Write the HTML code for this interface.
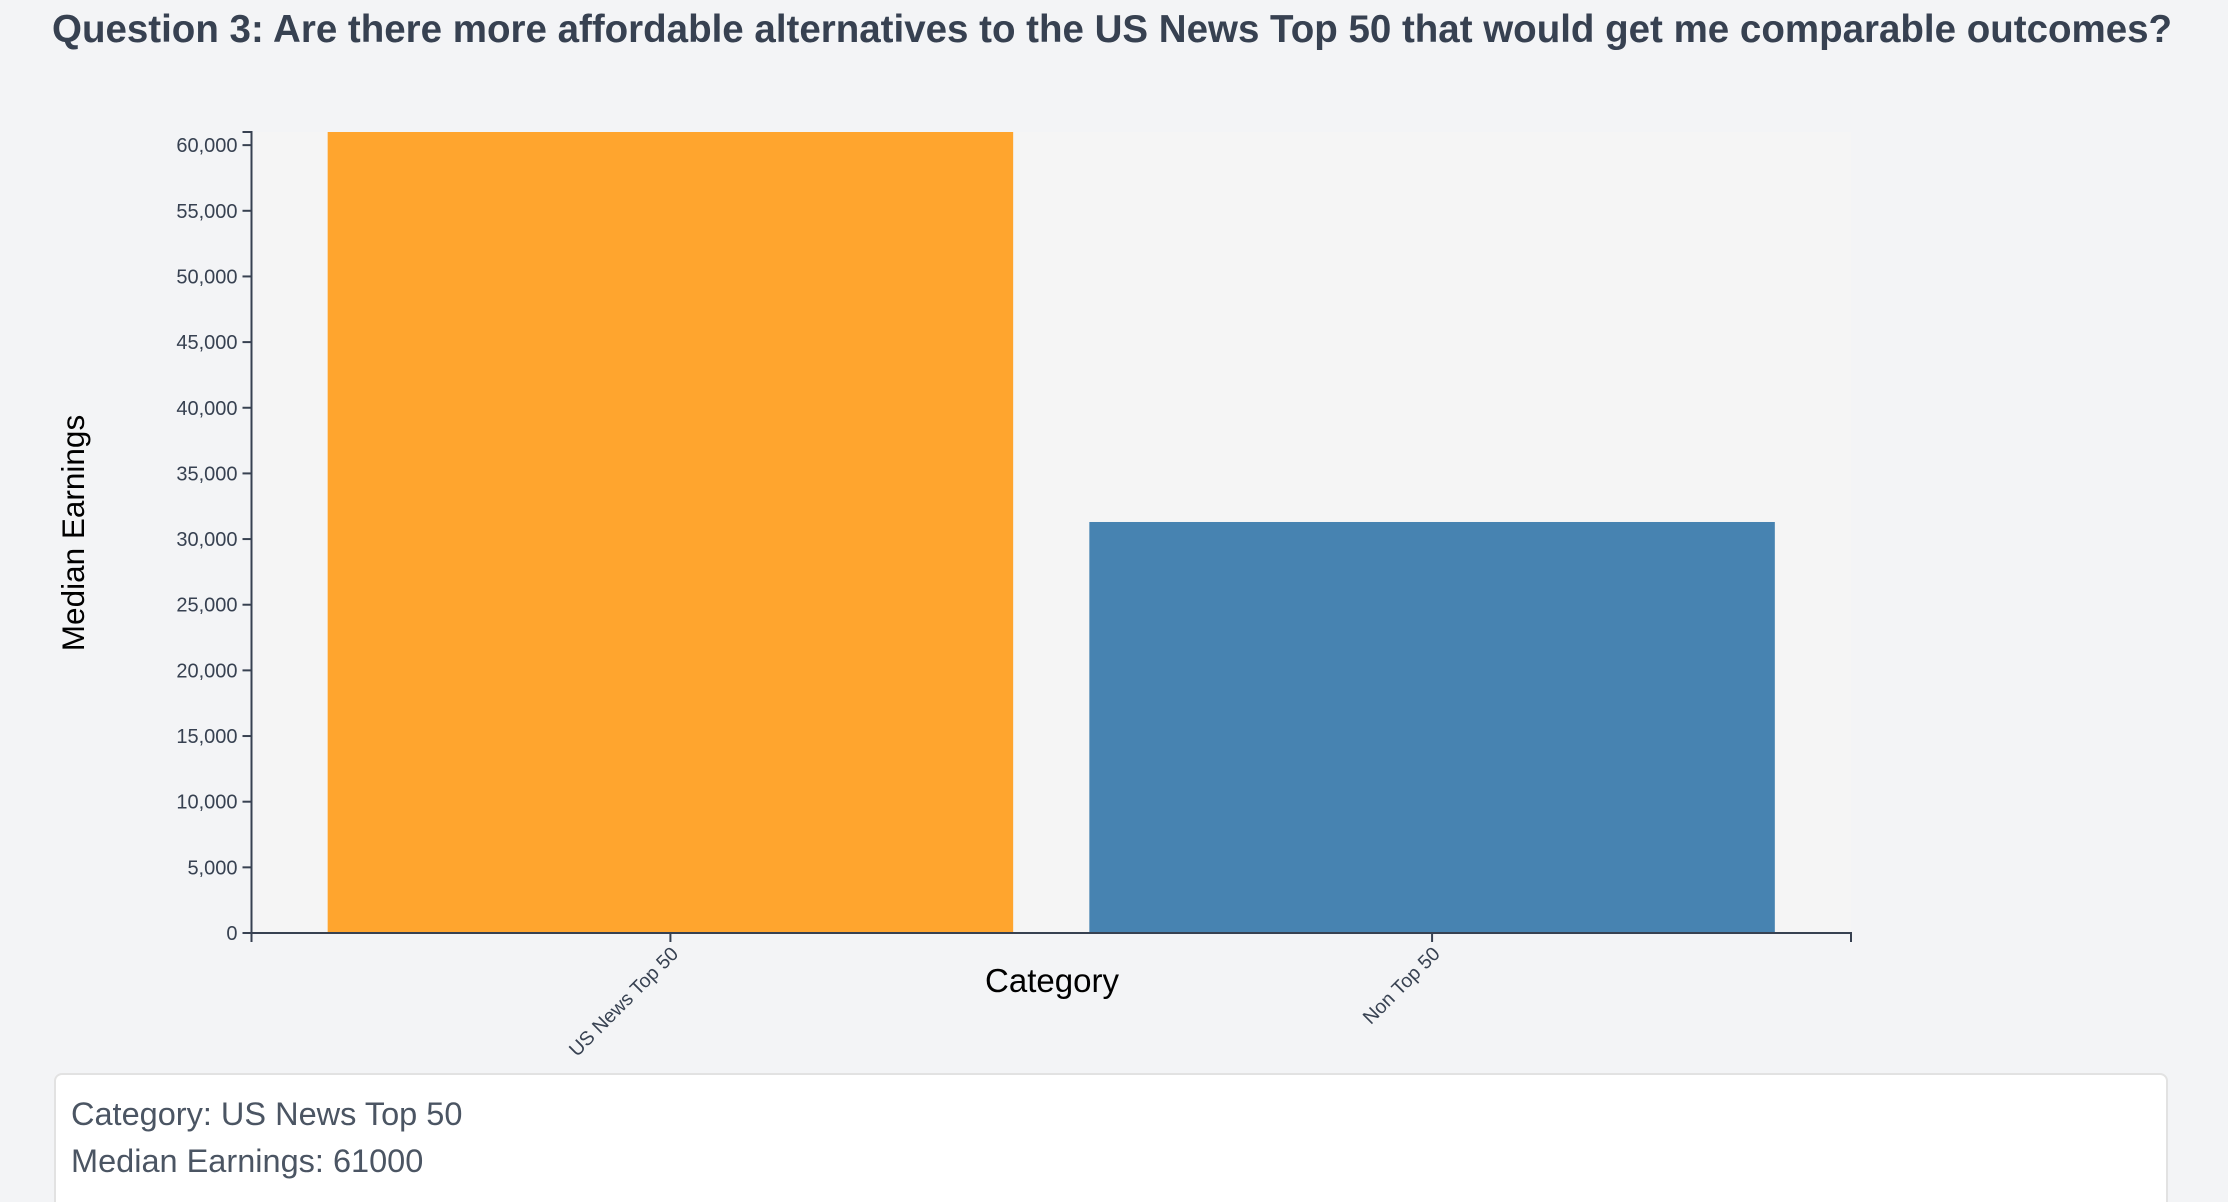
<!DOCTYPE html>
<html><head><meta charset="utf-8"><style>
html,body{margin:0;padding:0;background:#f3f4f6;width:2228px;height:1202px;overflow:hidden;font-family:"Liberation Sans",sans-serif;}
#title{position:absolute;left:52px;top:8px;font-size:38.5px;font-weight:bold;color:#374151;white-space:nowrap;}
#tooltip{position:absolute;left:54px;top:1073px;width:2114px;height:129px;background:#fff;border:2px solid #e2e2e2;border-bottom:none;border-radius:8px 8px 0 0;box-sizing:border-box;color:#4b5563;font-size:32.5px;}
#tooltip div{position:absolute;left:15px;}
svg{position:absolute;left:0;top:0;}
</style></head><body>
<div id="title">Question 3: Are there more affordable alternatives to the US News Top 50 that would get me comparable outcomes?</div>
<svg id="chart" width="2228" height="1070"></svg>
<div id="tooltip">
<div style="top:21px">Category: US News Top 50</div>
<div style="top:68px">Median Earnings: 61000</div>
</div>
<script>
const categories = ["US News Top 50", "Non Top 50"];
const values = [61000, 31300];
const barColors = ["#ffa52e", "#4783b1"];
const yTicks = [0,5000,10000,15000,20000,25000,30000,35000,40000,45000,50000,55000,60000];
const yMax = 61000;

const NS = "http://www.w3.org/2000/svg";
const svg = document.getElementById('chart');
const X0 = 251.5, X1 = 1851, Y0 = 933, Y1 = 132;
function mk(tag, attrs, parent){const e=document.createElementNS(NS,tag);for(const k in attrs)e.setAttribute(k,attrs[k]);(parent||svg).appendChild(e);return e;}
function yScale(v){return Y0 - (v / yMax) * (Y0 - Y1);}
const pi = 0.1, po = 0.1, n = categories.length;
const step = (X1 - X0) / (n - pi + 2 * po);
const bw = step * (1 - pi);
const startOff = (X1 - X0 - step * (n - pi)) / 2;
function xScale(i){return X0 + startOff + i * step;}

const bg = mk('rect',{x:X0,y:Y1,width:X1-X0,height:Y0-Y1,fill:'#f5f5f5'});



categories.forEach((c,i)=>{
  const r = mk('rect',{x:xScale(i),y:yScale(values[i]),width:bw,height:Y0-yScale(values[i]),fill:barColors[i]});
  
  
});

const ax = '#374151';
const yAxis = mk('g',{});


mk('path',{d:`M${X0-9},${Y1}H${X0}V${Y0}H${X0-9}`,stroke:ax,'stroke-width':2,fill:'none'},yAxis);
yTicks.forEach(t=>{
  const y=yScale(t);
  mk('line',{x1:X0-9,x2:X0,y1:y,y2:y,stroke:ax,'stroke-width':2},yAxis);
  const tx=mk('text',{x:X0-14,y:y+7,'text-anchor':'end','font-size':20,fill:'#374151'},yAxis);
  tx.textContent=t.toLocaleString('en-US');
  
  
});

const xAxis = mk('g',{});


mk('path',{d:`M${X0},${Y0+9}V${Y0}H${X1}V${Y0+9}`,stroke:ax,'stroke-width':2,fill:'none'},xAxis);
categories.forEach((c,i)=>{
  const x=xScale(i)+bw/2;
  mk('line',{x1:x,x2:x,y1:Y0,y2:Y0+9,stroke:ax,'stroke-width':2},xAxis);
  const tx=mk('text',{x:0,y:0,'text-anchor':'end','font-size':19.5,fill:'#374151',transform:`translate(${x+9},${Y0+22}) rotate(-45)`},xAxis);
  tx.textContent=c;
  
  
});

const yt = mk('text',{x:0,y:0,'text-anchor':'middle','font-size':31.5,fill:'#000',transform:`translate(84,533) rotate(-90)`});
yt.textContent='Median Earnings';


const xt = mk('text',{x:1052,y:992,'text-anchor':'middle','font-size':33,fill:'#000'});
xt.textContent='Category';


</script>
</body></html>
